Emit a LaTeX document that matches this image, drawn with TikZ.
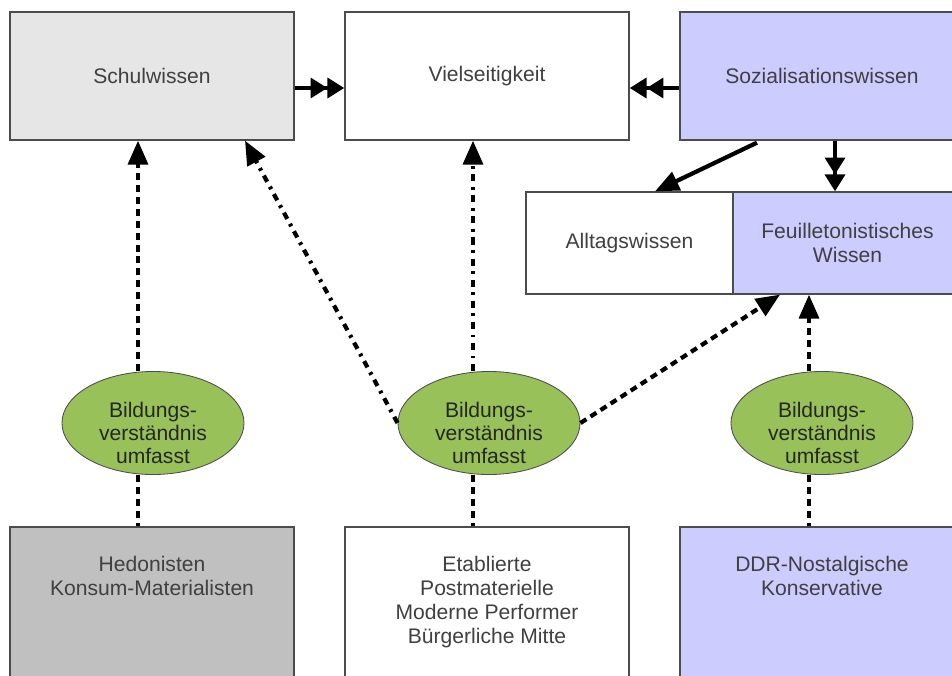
\documentclass[tikz,border=0pt]{standalone}
\usepackage{fontspec}
\setmainfont{Liberation Sans}
\usetikzlibrary{arrows.meta,calc,shapes.geometric}

\definecolor{schulgray}{RGB}{230,230,230}
\definecolor{hedgray}{RGB}{192,192,192}
\definecolor{lavender}{RGB}{204,204,255}
\definecolor{olive}{RGB}{153,193,90}

\begin{document}
\begin{tikzpicture}[x=0.025cm,y=-0.025cm,
  box/.style={shape=rectangle,draw=black!70,line width=0.9pt,minimum width=7.1cm,minimum height=3.2cm,inner sep=0pt,text=black!75,font=\fontsize{15}{17}\selectfont,align=center},
  lowbox/.style={box,minimum height=5cm},
  txt/.style={text=black!75,font=\fontsize{15}{17}\selectfont,align=center,anchor=north,inner sep=0pt},
  bild/.style={shape=ellipse,draw=black!70,line width=0.6pt,fill=olive,minimum width=4.55cm,minimum height=2.575cm,inner sep=0pt},
  bildtxt/.style={text=black!85,font=\fontsize{15}{16.5}\selectfont,align=center,inner sep=0pt},
  link/.style={line width=3pt,black},
  tip/.style={-{Triangle[length=17pt,width=14pt]}},
  dtip/.style={-{Triangle[length=12pt,width=14pt]Triangle[length=12pt,width=14pt]}},
  dashline/.style={link,dash pattern=on 5pt off 3.5pt},
  dashdot/.style={link,dash pattern=on 5pt off 4pt on 2pt off 4pt}]
\useasboundingbox (0,0) rectangle (952,676);

% top row
\node[box,fill=schulgray] (schul) at (152,76) {Schulwissen};
\node[box,fill=white] (viel) at (487,76) {Vielseitigkeit};
\node[box,fill=lavender] (soz) at (822,76) {Sozialisationswissen};

% middle row
\node[box,fill=white,minimum width=5.175cm,minimum height=2.55cm] (allt) at (629.5,243) {Alltagswissen};
\node[box,fill=lavender,minimum width=5.725cm,minimum height=2.55cm] (feuil) at (847.5,243) {Feuilletonistisches\\Wissen};

% ellipses
\node[bild] (b1) at (153,423) {};
\node[bild] (b2) at (489,423) {};
\node[bild] (b3) at (822,423) {};
\node[bildtxt] (b1txt) at ($(b1)+(0,10)$) {Bildungs-\\verständnis\\umfasst};
\node[bildtxt] (b2txt) at ($(b2)+(0,10)$) {Bildungs-\\verständnis\\umfasst};
\node[bildtxt] (b3txt) at ($(b3)+(0,10)$) {Bildungs-\\verständnis\\umfasst};

% bottom row
\node[lowbox,fill=hedgray] (hed) at (152,627) {};
\node[lowbox,fill=white] (etab) at (487,627) {};
\node[lowbox,fill=lavender] (ddr) at (822,627) {};
\node[txt] (hedtxt) at (152,556) {Hedonisten\\Konsum-Materialisten};
\node[txt] (etabtxt) at (487,556) {Etablierte\\Postmaterielle\\Moderne Performer\\Bürgerliche Mitte};
\node[txt] (ddrtxt) at (822,556) {DDR-Nostalgische\\Konservative};

% solid arrows
\draw[link,dtip] ($(schul.east)+(0,12)$) -- ($(viel.west)+(0,12)$);
\draw[link,dtip] ($(soz.west)+(0,12)$) -- ($(viel.east)+(0,12)$);
\draw[link,tip] ($(soz.south)+(-65,2)$) -- ($(allt.north)+(25.5,0)$);
\draw[link,dtip] ($(soz.south)+(13,0)$) -- ($(feuil.north)+(-12.5,0)$);

% ellipses up
\draw[dashline,tip] ($(b1.north)+(-15,0)$) -- ($(schul.south)+(-14,0)$);
\draw[dashdot,tip] (b2.west) -- ($(schul.south)+(93,0)$);
\draw[dashdot,tip] ($(b2.north)+(-16,0)$) -- ($(viel.south)+(-14,0)$);
\draw[dashline,tip] (b2.east) -- ($(feuil.south)+(-67.5,0)$);
\draw[dashline,tip] ($(b3.north)+(-13,0)$) -- ($(feuil.south)+(-38.5,0)$);

% bottom up
\draw[dashline] ($(b1.south)+(-15,0)$) -- ($(hed.north)+(-14,0)$);
\draw[dashline] ($(b2.south)+(-16,0)$) -- ($(etab.north)+(-14,0)$);
\draw[dashline] ($(b3.south)+(-13,0)$) -- ($(ddr.north)+(-13,0)$);
\end{tikzpicture}
\end{document}
